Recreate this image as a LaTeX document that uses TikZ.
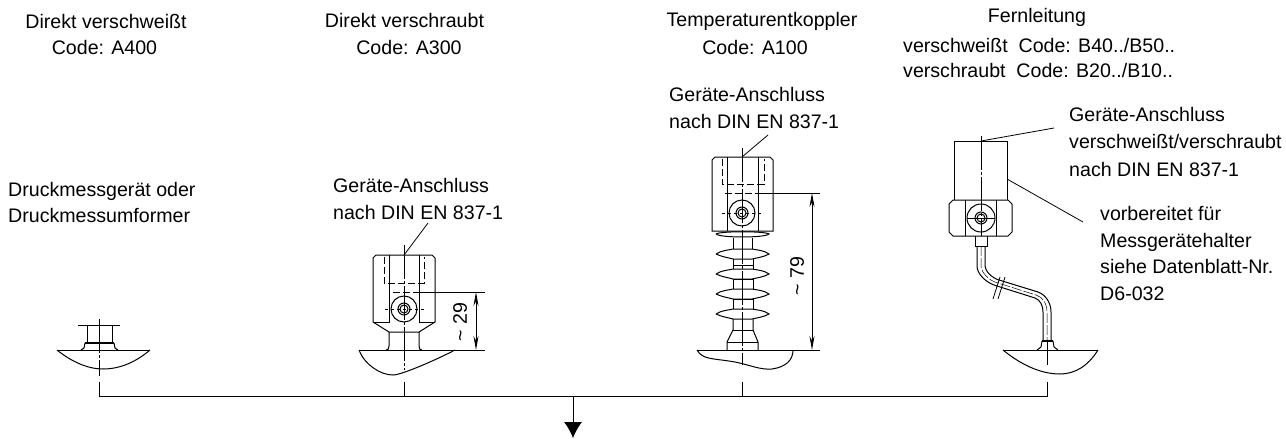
\documentclass[tikz,border=0pt]{standalone}
\usepackage{fontspec}
\setmainfont{Liberation Sans}
\usetikzlibrary{arrows.meta}
\tikzset{
  lbl/.style={inner sep=0pt,align=left,anchor=west,font=\fontsize{19.6}{26}\selectfont},
  lblc/.style={inner sep=0pt,align=center,font=\fontsize{19.6}{26}\selectfont},
  part/.style={line width=1pt},
  heavy/.style={line width=1.8pt},
  thinline/.style={line width=0.8pt},
  axis/.style={line width=0.8pt,dash pattern=on 34pt off 2pt on 3pt off 2pt},
  hidden/.style={line width=1pt,dash pattern=on 7pt off 3pt},
  dimline/.style={line width=0.9pt,{Stealth[length=14pt,width=5pt]}-{Stealth[length=14pt,width=5pt]}}
}
\begin{document}
\begin{tikzpicture}[x=1pt,y=-1pt]
\useasboundingbox (0,0) rectangle (1286,439);

%column titles
\node[lblc] (titleA) at (106,21) {Direkt verschweißt};
\node[lblc] (codeA) at (104.5,47) {Code: A400};
\node[lblc] (titleB) at (404.5,20) {Direkt verschraubt};
\node[lblc] (codeB) at (409,47) {Code: A300};
\node[lblc] (titleC) at (762,21) {Temperaturentkoppler};
\node[lblc] (codeC) at (755,47) {Code: A100};
\node[lblc] (titleD) at (1037,17) {Fernleitung};
\node[lbl] (codeW) at (903,45) {verschweißt\ \ Code: B40../B50..};
\node[lbl] (codeS) at (903,70) {verschraubt\ \ Code: B20../B10..};

%notes
\node[lbl] (noteA) at (8,202) {Druckmessgerät oder\\Druckmessumformer};
\node[lbl] (noteB) at (333,198.5) {Geräte-Anschluss\\[1pt]nach DIN EN 837-1};
\node[lbl] (noteC) at (669,108) {Geräte-Anschluss\\[1.5pt]nach DIN EN 837-1};
\node[lbl] (noteD) at (1069,141.5) {Geräte-Anschluss\\[1.5pt]verschweißt/verschraubt\\[1.5pt]nach DIN EN 837-1};
\node[lbl] (noteH) at (1100,253.5) {vorbereitet für\\[0.7pt]Messgerätehalter\\[0.7pt]siehe Datenblatt-Nr.\\[0.7pt]D6-032};

%collecting line
\coordinate (busA) at (99.5,396);
\coordinate (busB) at (404,396);
\coordinate (busC) at (742,396);
\coordinate (busD) at (1047,396);
\coordinate (busM) at (573,396);
\coordinate (outM) at (573,438);
\coordinate (stubA) at (99.5,382);
\coordinate (stubB) at (404,382);
\coordinate (stubC) at (742,382);
\coordinate (stubD) at (1047,382);
\draw[part] (stubA)--(busA)--(busD)--(stubD);
\draw[part] (stubB)--(busB);
\draw[part] (stubC)--(busC);
\draw[part,-{Latex[length=16pt,width=18pt]}] (busM)--(outM);

%part A
\draw[part] (57,350)--(150,350);
\draw[part] (57,350) .. controls (72,362) and (88,369) .. (103,369) .. controls (120,369) and (136,362) .. (150,350);
\draw[part] (78,325)--(120,325);
\draw[part] (87,325)--(87,343);
\draw[part] (112,325)--(112,343);
\draw[heavy] (85,343)--(114,343);
\draw[part] (85,343)--(84,348)--(81,350);
\draw[part] (114,343)--(115,348)--(118,350);
\draw[axis] (99.5,319)--(99.5,376);

%part B
\draw[part] (359,350)--(455,350);
\draw[part] (359,350) .. controls (364,364) and (380,375) .. (393,375) .. controls (402,375) and (440,358) .. (455,350);
\draw[part] (376,255)--(432,255)--(435,258)--(435,322)--(419,332)--(389,332)--(373,322)--(373,258)--cycle;
\draw[part] (389,255)--(389,322)--(373,322);
\draw[part] (419,255)--(419,322)--(435,322);
\draw[part] (389,332)--(389,346) .. controls (389,349) and (388,350) .. (386,350);
\draw[part] (419,332)--(419,346) .. controls (419,349) and (420,350) .. (422,350);
\draw[hidden] (384,257)--(384,283)--(424,283)--(424,257);
\draw[hidden] (393,292)--(415,292);
\draw[part] (404,309) circle (13);
\draw[part] (404,309) circle (6);
\draw[part] (404,309) circle (4);
\draw[thinline,dashed] (385,309)--(425,309);
\draw[axis] (404,245)--(404,370);
\draw[thinline] (415,292)--(485,292);
\draw[thinline] (455,350)--(485,350);
\coordinate (dimBt) at (476,292);
\coordinate (dimBb) at (476,350);
\draw[dimline] (dimBt)--(dimBb);
\node[lblc,rotate=90] (dimB) at (460,322) {\textasciitilde{} 29};
\coordinate (tipB) at (404,255);
\coordinate (leadB) at (428,223);
\draw[thinline] (tipB)--(leadB);

%part C
\draw[part] (697,350)--(820,350);
\draw[part] (697,350) .. controls (703,360) and (712,358) .. (735,362) .. controls (750,365) and (760,370) .. (772,369) .. controls (786,367) and (793,360) .. (793,350);
\draw[part] (715,157)--(770,157)--(773,160)--(773,231)--(712,231)--(712,160)--cycle;
\draw[part] (727,157)--(727,231);
\draw[part] (758,157)--(758,231);
\draw[hidden] (722,159)--(722,184)--(764,184)--(764,159);
\draw[hidden] (725,193)--(760,193);
\draw[part] (742,213) circle (13);
\draw[part] (742,213) circle (6);
\draw[part] (742,213) circle (4);
\draw[thinline,dashed] (722,213)--(762,213);
\draw[part] (716,234) .. controls (720,231) and (765,231) .. (769,234) .. controls (765,238) and (720,238) .. (716,234);
\foreach \y in {254,274,294,314}{
  \draw[part] (716,\y) .. controls (722,\y-4) and (730,\y-4) .. (733,\y-5) -- (752,\y-5) .. controls (756,\y-4) and (764,\y-4) .. (769,\y) .. controls (764,\y+3) and (756,\y+4) .. (752,\y+5) -- (733,\y+5) .. controls (730,\y+4) and (722,\y+3) .. (716,\y);
}
\draw[part] (733,238)--(733,249);
\draw[part] (752,238)--(752,249);
\foreach \y in {259,279,299}{
  \draw[part] (733,\y)--(733,\y+10);
  \draw[part] (753,\y)--(753,\y+10);
}
\draw[thinline] (733,265)--(753,265);
\draw[thinline] (733,279)--(753,279);
\draw[thinline] (733,299)--(753,299);
\draw[part] (733,319)--(733,330)--(727,342)--(727,350);
\draw[part] (753,319)--(753,330)--(758,342)--(758,350);
\draw[thinline] (733,330)--(753,330);
\draw[thinline] (727,342)--(758,342);
\draw[axis] (742,148)--(742,365);
\draw[thinline] (760,193)--(820,193);
\coordinate (dimCt) at (812,193);
\coordinate (dimCb) at (812,350);
\draw[dimline] (dimCt)--(dimCb);
\node[lblc,rotate=90] (dimC) at (797,276) {\textasciitilde{} 79};
\coordinate (tipC) at (742,157);
\coordinate (leadC) at (768,135);
\draw[thinline] (tipC)--(leadC);

%part D
\draw[part] (954,200)--(954,141)--(1007,141)--(1007,200);
\draw[part] (953,200)--(1008,200)--(1012,204)--(1012,232)--(1008,236)--(953,236)--(949,232)--(949,204)--cycle;
\draw[part] (965,200)--(965,236);
\draw[part] (996,200)--(996,236);
\draw[part] (981,218) circle (14);
\draw[part] (981,218) circle (6);
\draw[part] (981,218) circle (4);
\draw[thinline] (967,218)--(995,218);
\draw[part] (975,236)--(975,246)--(987,246)--(987,236);
\draw[axis] (981,136)--(981,236);
%pipe
\draw[part] (977,246)--(977,266) .. controls (977,274) and (986,283) .. (997,286) -- (1035,298) .. controls (1040,300) and (1043,305) .. (1043,312) -- (1043,340);
\draw[part] (985,246)--(985,266) .. controls (985,271) and (992,278) .. (999,280) -- (1038,292) .. controls (1046,295) and (1051,303) .. (1051,312) -- (1051,340);
\draw[line width=0.5pt,dash pattern=on 10pt off 2pt] (981,246)--(981,266) .. controls (981,272) and (989,281) .. (998,283) -- (1036,295) .. controls (1043,297) and (1047,304) .. (1047,312) -- (1047,340);
\draw[thinline] (1000,277)--(993,299);
\draw[thinline] (1005,277)--(998,299);
\draw[part] (1003,350)--(1098,350);
\draw[part] (1003,350) .. controls (1020,364) and (1040,374) .. (1060,374) .. controls (1075,374) and (1088,366) .. (1098,350);
\draw[heavy] (1042,341)--(1053,341);
\draw[part] (1042,341)--(1041,347)--(1037,350);
\draw[part] (1053,341)--(1054,347)--(1058,350);
\draw[axis] (1047,340)--(1047,365);
\coordinate (tipD) at (981,141);
\coordinate (leadD) at (1054,128);
\draw[thinline] (tipD)--(leadD);
\coordinate (tipH) at (1007,179);
\coordinate (leadH) at (1083,222);
\draw[thinline] (tipH)--(leadH);
\end{tikzpicture}
\end{document}
